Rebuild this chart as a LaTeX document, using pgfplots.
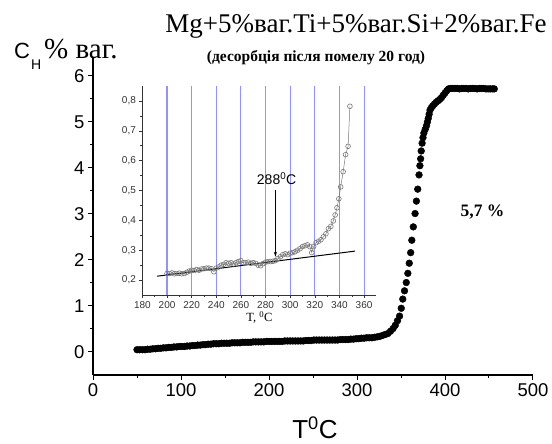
\documentclass[border=0pt]{standalone}
\usepackage{fontspec}
\setmainfont{Liberation Serif}
\setsansfont{Liberation Sans}
\usepackage{pgfplots}
\pgfplotsset{compat=1.18}
\usetikzlibrary{arrows.meta}
\definecolor{gridblue}{RGB}{145,145,255}
\definecolor{insgray}{RGB}{120,120,120}
\begin{document}
\begin{tikzpicture}[x=1pt,y=1pt]
\useasboundingbox (0,0) rectangle (552,444);
% main axis
\begin{axis}[at={(93pt,69pt)}, anchor=south west, scale only axis,
  width=440pt, height=317.4pt,
  xmin=0, xmax=500, ymin=-0.5, ymax=6.4,
  axis x line=bottom, axis y line=left,
  axis line style={-, line width=1.1pt},
  xtick={0,100,...,500}, ytick={0,1,...,6},
  minor x tick num=1, minor y tick num=1,
  tick align=outside, major tick length=5pt, minor tick length=3pt,
  tick style={line width=1pt, black},
  ticklabel style={font=\fontsize{18.5}{18.5}\sffamily},
  /pgf/number format/assume math mode=true,
  clip=false]
\addplot[only marks, mark=*, mark size=3.4pt, mark options={black}] coordinates {
(50,0.05)(53,0.05)(56,0.05)(59,0.05)(62,0.06)(65,0.06)(68,0.07)(71,0.07)(74,0.08)(77,0.08)
(80,0.09)(83,0.09)(86,0.10)(89,0.10)(92,0.11)(95,0.11)(98,0.12)(101,0.12)(104,0.12)(107,0.13)
(110,0.13)(113,0.14)(116,0.14)(119,0.15)(122,0.15)(125,0.16)(128,0.16)(131,0.17)(134,0.17)(137,0.18)
(140,0.18)(143,0.18)(146,0.19)(149,0.19)(152,0.19)(155,0.19)(158,0.20)(161,0.20)(164,0.20)(167,0.20)
(170,0.21)(173,0.21)(176,0.21)(179,0.21)(182,0.22)(185,0.22)(188,0.22)(191,0.22)(194,0.22)(197,0.23)
(200,0.23)(203,0.23)(206,0.23)(209,0.23)(212,0.23)(215,0.23)(218,0.24)(221,0.24)(224,0.24)(227,0.24)
(230,0.24)(233,0.24)(236,0.24)(239,0.24)(242,0.25)(245,0.25)(248,0.25)(251,0.26)(254,0.26)(257,0.26)
(260,0.26)(263,0.26)(266,0.26)(269,0.26)(272,0.26)(275,0.26)(278,0.26)(281,0.27)(284,0.27)(287,0.27)
(290,0.27)(293,0.28)(296,0.28)(299,0.29)(302,0.29)(305,0.30)(308,0.30)(311,0.31)(314,0.31)(317,0.31)
(320,0.32)(323,0.33)(326,0.34)(329,0.36)(332,0.38)(335,0.40)(338,0.45)(341,0.51)(343.5,0.58)(346,0.68)
(348.4,0.78)(350.3,0.95)(352,1.15)(354,1.33)(356,1.51)(357.8,1.71)(359.4,1.93)(361,2.16)(362.3,2.43)(364,2.72)
(366,3.01)(367.5,3.28)(369,3.54)(370.5,3.85)(371.5,4.05)(372.3,4.2)(373,4.37)(374,4.54)(375,4.66)(376,4.76)
(377.5,4.84)(379,4.92)(380,5.0)(381,5.08)(382,5.17)(383,5.26)(384.5,5.31)(386,5.35)(388,5.39)(390,5.43)
(392,5.46)(394,5.49)(396,5.53)(398,5.58)(400,5.63)(402,5.68)(404,5.72)(406.5,5.73)(409,5.73)(411.5,5.73)
(414,5.73)(416.5,5.72)(419,5.73)(421.5,5.73)(424,5.73)(426.5,5.72)(429,5.73)(431.5,5.73)(434,5.73)(436.5,5.72)
(439,5.73)(441.5,5.73)(444,5.73)(446.5,5.72)(449,5.72)(451.5,5.72)(454,5.72)(456,5.72)
};
\end{axis}
% inset axis
\begin{axis}[at={(142.4pt,149pt)}, anchor=south west, scale only axis,
  width=234pt, height=209pt,
  xmin=180, xmax=370, ymin=0.15, ymax=0.85,
  axis x line=bottom, axis y line=left,
  axis line style={-, line width=0.6pt, black!80},
  xtick={180,200,...,360}, ytick={0.2,0.3,...,0.8},
  minor x tick num=1, minor y tick num=1,
  tick align=outside, major tick length=3pt, minor tick length=2pt,
  tick style={line width=0.5pt, black!80},
  ticklabel style={font=\fontsize{10}{10}\sffamily, black!80},
  /pgf/number format/assume math mode=true,
  /pgf/number format/use comma, /pgf/number format/fixed, /pgf/number format/precision=1,
  xlabel={T, \textsuperscript{0}C}, xlabel style={font=\fontsize{12.5}{12.5}\rmfamily, yshift=4pt},
  axis on top,
  clip=false]
\pgfplotsinvokeforeach{200,220,...,360}{
  \draw[gridblue, line width=1.1pt] (axis cs:#1,0.15) -- (axis cs:#1,0.85);
}
\addplot[insgray, line width=0.5pt, mark=o, mark size=2.4pt, mark options={insgray, line width=0.6pt}] coordinates {
(200,0.222)(202,0.222)(204,0.224)(206,0.221)(208,0.222)(210,0.223)(212,0.221)(214,0.222)(216,0.226)(218,0.230)
(220,0.233)(222,0.232)(224,0.235)(226,0.233)(228,0.237)(230,0.238)(232,0.240)(234,0.240)(236,0.238)(238,0.228)
(240,0.240)(242,0.244)(244,0.250)(246,0.253)(248,0.258)(250,0.256)(252,0.258)(254,0.254)(256,0.258)(258,0.262)
(260,0.265)(262,0.258)(264,0.258)(266,0.260)(268,0.256)(270,0.258)(272,0.256)(274,0.250)(276,0.248)(278,0.255)
(280,0.260)(282,0.262)(284,0.262)(286,0.263)(288,0.265)(290,0.272)(292,0.278)(294,0.285)(296,0.288)(298,0.285)
(300,0.290)(302,0.292)(304,0.295)(306,0.300)(308,0.305)(310,0.312)(312,0.315)(314,0.318)(316,0.312)(317.5,0.292)
(319,0.312)(321,0.325)(323,0.330)(325,0.335)(327,0.345)(329,0.355)(331,0.372)(333,0.380)(335,0.398)(336.5,0.418)
(338,0.442)(339.5,0.472)(341,0.512)(343,0.563)(345,0.620)(347,0.648)(348.5,0.782)
};
\addplot[black, line width=1pt] coordinates {(192,0.213)(352.7,0.297)};
\draw[-{Stealth[length=5pt,width=3pt]}, line width=0.7pt] (axis cs:288,0.50) -- (axis cs:288,0.278);
\node[font=\fontsize{14}{14}\sffamily] at (axis cs:289,0.54) {288\textsuperscript{0}C};
\end{axis}
% texts
\node[anchor=base, inner sep=0pt, font=\fontsize{27}{27}\rmfamily] at (356,411) {Mg+5\%ваг.Ti+5\%ваг.Si+2\%ваг.Fe};
\node[anchor=base, inner sep=0pt, font=\fontsize{15.5}{15.5}\rmfamily\bfseries] at (316,382) {(десорбція після помелу 20 год)};
\node[anchor=base west, inner sep=0pt] at (14,385.7) {\fontsize{22}{22}\sffamily C\hspace{1pt}\raisebox{-11.7pt}{\fontsize{14}{14}\selectfont H}\hspace{3pt}\fontsize{29}{29}\rmfamily\% ваг.};
\node[anchor=base, inner sep=0pt, font=\fontsize{26}{26}\sffamily] at (315,5) {T\textsuperscript{0}C};
\node[anchor=base, inner sep=0pt, font=\fontsize{17.5}{17.5}\rmfamily\bfseries] at (482.5,227.3) {5,7 \%};
\end{tikzpicture}
\end{document}
